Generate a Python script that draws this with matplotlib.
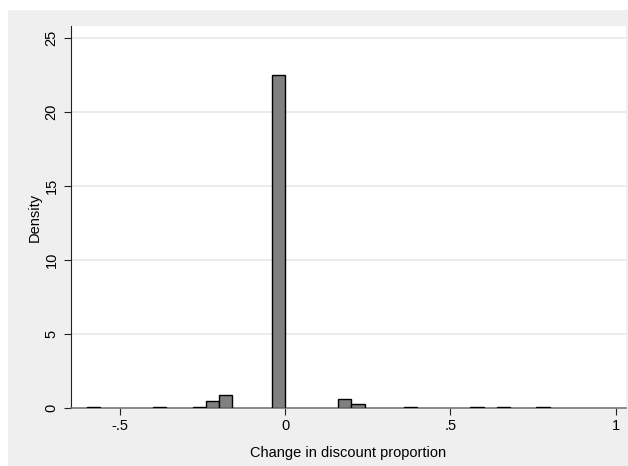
import matplotlib.pyplot as plt
from matplotlib.patches import Rectangle

plt.rcParams['font.family'] = ['Liberation Sans', 'DejaVu Sans']

# Data: histogram bins (left edge) and density
bin_width = 0.04
bin_left = [-0.60, -0.40, -0.28, -0.24, -0.20, -0.04, 0.16, 0.20, 0.36, 0.56, 0.64, 0.76]
density = [0.06, 0.06, 0.06, 0.49, 0.88, 22.5, 0.61, 0.27, 0.12, 0.06, 0.06, 0.06]

x_ticks = [-0.5, 0, 0.5, 1]
x_tick_labels = ['-.5', '0', '.5', '1']
y_ticks = [0, 5, 10, 15, 20, 25]

fig = plt.figure(figsize=(6.28, 4.66), dpi=100)
fig.patch.set_facecolor('white')
# Stata-style light gray graph region
fig.patches.append(Rectangle((8 / 628, 0), 620 / 628, 456 / 466, transform=fig.transFigure,
                             facecolor='#efefef', edgecolor='none', zorder=-10))

ax = fig.add_axes([71 / 628, 57.7 / 466, 555 / 628, 382.3 / 466])
ax.set_zorder(1)
ax.set_facecolor('white')

ax.bar(bin_left, density, width=bin_width, align='edge', color='#808080',
       edgecolor='black', linewidth=1.0, zorder=3)

ax.set_xlim(-0.648, 1.031)
ax.set_ylim(0, 25.8)

ax.set_xticks(x_ticks)
ax.set_xticklabels(x_tick_labels)
ax.set_yticks(y_ticks)
ax.set_yticklabels([str(v) for v in y_ticks], rotation=90, va='center')

for v in y_ticks[1:]:
    ax.axhline(v, color='#e8e8e8', linewidth=1.2, zorder=1)

for side in ['top', 'right']:
    ax.spines[side].set_visible(False)
ax.spines['left'].set_color('#222222')
ax.spines['bottom'].set_color('#777777')
ax.spines['bottom'].set_linewidth(1.2)

ax.tick_params(axis='both', direction='out', length=5, width=0.8, colors='#222222',
               labelsize=10.5, labelcolor='black')
ax.tick_params(axis='y', pad=4)
ax.tick_params(axis='x', pad=3)

ax.set_xlabel('Change in discount proportion', fontsize=10.5, labelpad=9)
ax.set_ylabel('Density', fontsize=10.5, labelpad=2)

fig.savefig('out.png', dpi=100)
